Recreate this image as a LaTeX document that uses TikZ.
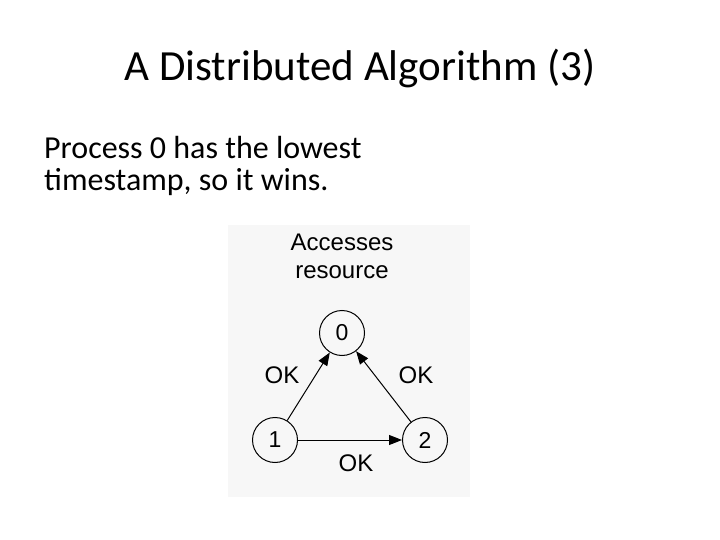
\documentclass[tikz,border=0pt]{standalone}
\usepackage{fontspec}
\setmainfont{Carlito}
\newfontfamily\figfont{Liberation Sans}
\usetikzlibrary{arrows.meta}
\begin{document}
\begin{tikzpicture}[x=1pt,y=-1pt,
  proc/.style={circle,draw,line width=1pt,minimum size=45pt,inner sep=0pt,font=\figfont\fontsize{23}{23}\selectfont},
  conn/.style={line width=1pt,-{Triangle[length=13pt,width=10pt]}},
  lab/.style={font=\figfont\fontsize{24}{28}\selectfont,align=center,inner sep=0pt}]
\useasboundingbox (0,0) rectangle (720,540);
\fill[white] (0,0) rectangle (720,540);
\fill[gray!6] (228,225) rectangle (470,497);
\node[font=\fontsize{43}{48}\selectfont] (title) at (360,68) {A Distributed Algorithm (3)};
\node[font=\fontsize{32}{32}\selectfont,align=left,anchor=north west,inner sep=0pt] (body) at (44,136) {Process 0 has the lowest\\timestamp, so it wins.};
\node[lab] (acc) at (342,256) {Accesses\\resource};
\node[proc] (p0) at (342,333) {0};
\node[proc] (p1) at (275,440) {1};
\node[proc] (p2) at (425,440) {2};
\draw[conn] (p1) -- (p0);
\draw[conn] (p2) -- (p0);
\draw[conn] (p1) -- (p2);
\node[lab] (ok1) at (282,375) {OK};
\node[lab] (ok2) at (416,375) {OK};
\node[lab] (ok3) at (356,463) {OK};
\end{tikzpicture}
\end{document}
